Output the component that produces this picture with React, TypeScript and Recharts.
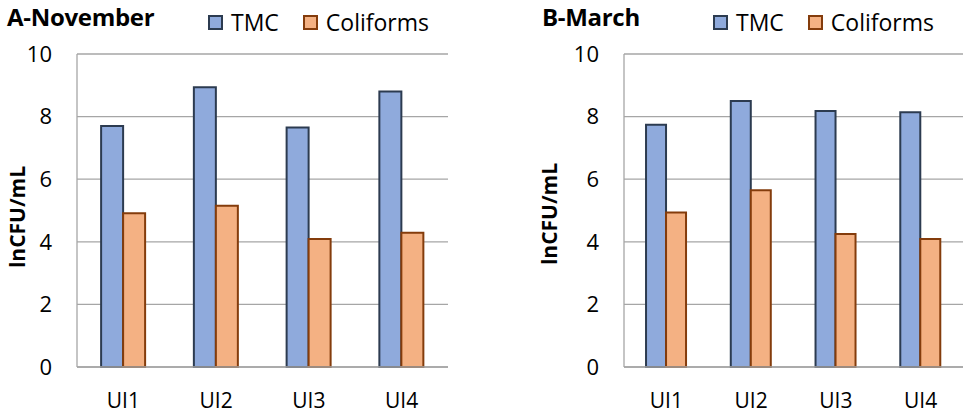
import React from "react";
import { Bar, BarChart, CartesianGrid, XAxis, YAxis } from "recharts";

const sites = ["UI1", "UI2", "UI3", "UI4"];
const novTmc = [7.7, 8.94, 7.65, 8.8];
const novColi = [4.91, 5.15, 4.09, 4.29];
const marTmc = [7.74, 8.5, 8.18, 8.14];
const marColi = [4.94, 5.65, 4.25, 4.09];
const yTicks = [0, 2, 4, 6, 8, 10];

const FONT = "'Open Sans', 'Noto Sans', sans-serif";
const TMC_FILL = "#8faadc";
const TMC_STROKE = "#2c3b50";
const COLI_FILL = "#f4b183";
const COLI_STROKE = "#843c0c";
const GRID = "#a6a6a6";

const novData = sites.map((s, i) => ({ site: s, TMC: novTmc[i], Coliforms: novColi[i] }));
const marData = sites.map((s, i) => ({ site: s, TMC: marTmc[i], Coliforms: marColi[i] }));

function LegendBox({ left }: { left: number }) {
  const items = [
    { name: "TMC", fill: TMC_FILL, stroke: TMC_STROKE },
    { name: "Coliforms", fill: COLI_FILL, stroke: COLI_STROKE },
  ];
  return (
    <div
      style={{
        position: "absolute",
        left,
        top: 6,
        display: "flex",
        fontFamily: FONT,
        fontSize: 23,
        color: "#000",
        whiteSpace: "nowrap",
      }}
    >
      {items.map((it) => (
        <div key={it.name} style={{ display: "flex", alignItems: "center", marginRight: 24 }}>
          <span
            style={{
              display: "inline-block",
              width: 11,
              height: 11,
              background: it.fill,
              border: `2px solid ${it.stroke}`,
              marginRight: 8,
            }}
          />
          <span>{it.name}</span>
        </div>
      ))}
    </div>
  );
}

function yLabel(cx: number, cy: number) {
  return () => (
    <text
      x={cx}
      y={cy}
      transform={`rotate(-90 ${cx} ${cy})`}
      textAnchor="middle"
      dominantBaseline="central"
      fontFamily={FONT}
      fontWeight="bold"
      fontSize={21}
      fill="#000"
    >
      lnCFU/mL
    </text>
  );
}

function Panel({ data, title, axisWidth, width, right, labelX, labelY, titleX, legendX }: any) {
  return (
    <div style={{ position: "relative", width, height: 415 }}>
      <div
        style={{
          position: "absolute",
          left: titleX,
          top: 0,
          fontFamily: FONT,
          fontWeight: "bold",
          fontSize: 24,
          letterSpacing: -0.3,
          whiteSpace: "nowrap",
        }}
      >
        {title}
      </div>
      <LegendBox left={legendX} />
      <BarChart
        width={width}
        height={415}
        data={data}
        margin={{ top: 54, right, bottom: 0, left: 0 }}
        barCategoryGap="26%"
        barGap={0}
      >
        <CartesianGrid vertical={false} stroke={GRID} strokeWidth={1.3} />
        <XAxis
          dataKey="site"
          height={48}
          tickLine={false}
          axisLine={{ stroke: GRID, strokeWidth: 1.3 }}
          tick={{ fontFamily: FONT, fontSize: 21, fill: "#000" }}
          tickMargin={20}
        />
        <YAxis
          domain={[0, 10]}
          ticks={yTicks}
          width={axisWidth}
          tickLine={false}
          tickSize={0}
          tickMargin={25}
          axisLine={{ stroke: GRID, strokeWidth: 1.3 }}
          tick={{ fontFamily: FONT, fontSize: 22, fill: "#000" }}
          label={{ content: yLabel(labelX, labelY) } as any}
        />
        <Bar dataKey="TMC" fill={TMC_FILL} stroke={TMC_STROKE} strokeWidth={2} isAnimationActive={false} />
        <Bar dataKey="Coliforms" fill={COLI_FILL} stroke={COLI_STROKE} strokeWidth={2} isAnimationActive={false} />
      </BarChart>
    </div>
  );
}

export default function App() {
  return (
    <div
      style={{
        position: "absolute",
        left: 0,
        top: 0,
        width: 963,
        height: 415,
        background: "#fff",
        display: "flex",
      }}
    >
      <div style={{ width: 480 }}>
        <Panel
          data={novData}
          title="A-November"
          axisWidth={77}
          width={470}
          right={22}
          labelX={17}
          labelY={217}
          titleX={7}
          legendX={208}
        />
      </div>
      <Panel
        data={marData}
        title="B-March"
        axisWidth={144}
        width={483}
        right={0}
        labelX={69}
        labelY={214}
        titleX={62}
        legendX={233}
      />
    </div>
  );
}
